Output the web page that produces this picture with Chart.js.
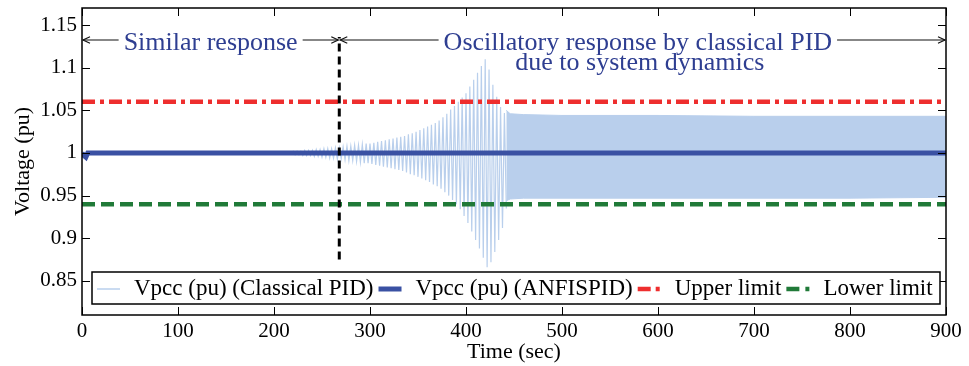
<!DOCTYPE html>
<html>
<head>
<meta charset="utf-8">
<script src="https://cdn.jsdelivr.net/npm/chart.js@4.4.1/dist/chart.umd.min.js"></script>
<style>
  html, body { margin: 0; padding: 0; background: #fff; }
  #wrap { width: 969px; height: 366px; position: relative; }
</style>
</head>
<body>
<div id="wrap"><canvas id="chart"></canvas></div>
<script>
// ---- axis ticks ----
const xTicks = [0, 100, 200, 300, 400, 500, 600, 700, 800, 900];
const yTicks = [0.85, 0.9, 0.95, 1, 1.05, 1.1, 1.15];

// ---- limits and event marker ----
const upperLimit = 1.06;
const lowerLimit = 0.94;
const switchTime = 268;          // end of the "similar response" window (s)
const switchSpan = [0.875, 1.136];

// ---- Vpcc with ANFIS-PID (pu) ----
const anfisTime  = [0, 2, 4, 6, 900];
const anfisValue = [1.0, 0.997, 0.995, 1.0, 1.0];

// ---- Vpcc with classical PID (pu): growing oscillation, crest / trough per cycle ----
const oscHalfPeriod = 2;         // trough follows each crest by half a cycle (s)
const oscTime = [212, 216, 220, 224, 228, 232, 236, 240, 244, 248,
                 252, 256, 260, 264, 268, 272, 276, 280, 284, 288,
                 292, 296, 300, 304, 308, 312, 316, 320, 324, 328,
                 332, 336, 340, 344, 348, 352, 356, 360, 364, 368,
                 372, 376, 380, 384, 388, 392, 396, 400, 404, 408,
                 412, 416, 420, 424, 428, 432, 436, 440];
const oscHigh = [1.001, 1.001, 1.002, 1.002, 1.002, 1.003, 1.003, 1.003, 1.004, 1.004,
                 1.005, 1.005, 1.005, 1.006, 1.006, 1.007, 1.008, 1.008, 1.009, 1.009,
                 1.010, 1.011, 1.011, 1.012, 1.013, 1.014, 1.015, 1.016, 1.017, 1.018,
                 1.019, 1.020, 1.022, 1.023, 1.025, 1.027, 1.029, 1.031, 1.033, 1.035,
                 1.038, 1.042, 1.046, 1.051, 1.055, 1.060, 1.065, 1.070, 1.078, 1.086,
                 1.094, 1.102, 1.110, 1.098, 1.080, 1.066, 1.054, 1.047];
const oscLow  = [0.999, 0.999, 0.998, 0.998, 0.997, 0.997, 0.997, 0.996, 0.996, 0.995,
                 0.995, 0.994, 0.994, 0.993, 0.993, 0.992, 0.991, 0.991, 0.990, 0.989,
                 0.988, 0.988, 0.987, 0.986, 0.985, 0.984, 0.983, 0.982, 0.981, 0.980,
                 0.979, 0.977, 0.975, 0.974, 0.972, 0.970, 0.968, 0.966, 0.963, 0.961,
                 0.958, 0.954, 0.950, 0.945, 0.940, 0.934, 0.926, 0.918, 0.908, 0.898,
                 0.888, 0.877, 0.866, 0.872, 0.884, 0.898, 0.912, 0.935];
// steady oscillation band after ~442 s (envelope of the fast swing)
const bandTime = [442, 446, 460, 500, 600, 700, 800, 900];
const bandHigh = [1.050, 1.046, 1.045, 1.044, 1.044, 1.043, 1.043, 1.043];
const bandLow  = [0.944, 0.946, 0.947, 0.947, 0.947, 0.947, 0.947, 0.948];

// ---- colours ----
const cLight = '#b9cfec';
const cAnfis = '#3a51a3';
const cUpper = '#ee2e2e';
const cLower = '#207a38';
const cNote  = '#2e3e91';
const SERIF = '"Liberation Serif", "Times New Roman", serif';

// build point lists
const classicalPts = [{ x: 0, y: 1.0 }, { x: 210, y: 1.0 }];
oscTime.forEach((t, i) => {
  classicalPts.push({ x: t, y: oscHigh[i] });
  classicalPts.push({ x: t + oscHalfPeriod, y: oscLow[i] });
});
const bandHighPts = bandTime.map((t, i) => ({ x: t, y: bandHigh[i] }));
const bandLowPts  = bandTime.map((t, i) => ({ x: t, y: bandLow[i] }));
const anfisPts    = anfisTime.map((t, i) => ({ x: t, y: anfisValue[i] }));
const upperPts    = [{ x: 0, y: upperLimit }, { x: 900, y: upperLimit }];
const lowerPts    = [{ x: 0, y: lowerLimit }, { x: 900, y: lowerLimit }];
const switchPts   = [{ x: switchTime, y: switchSpan[0] }, { x: switchTime, y: switchSpan[1] }];

const legendItems = [
  { text: 'Vpcc (pu) (Classical PID)', color: cLight, width: 1.5, dash: [] },
  { text: 'Vpcc (pu) (ANFISPID)',      color: cAnfis, width: 5,   dash: [] },
  { text: 'Upper limit',               color: cUpper, width: 4.5, dash: [13, 5, 4, 5] },
  { text: 'Lower limit',               color: cLower, width: 4.5, dash: [13, 6] }
];

function seg(ctx, x1, y1, x2, y2) {
  ctx.beginPath(); ctx.moveTo(x1, y1); ctx.lineTo(x2, y2); ctx.stroke();
}
function arrow(ctx, xFrom, xTo, y) {
  const d = xTo > xFrom ? 1 : -1;
  seg(ctx, xFrom, y, xTo, y);
  ctx.beginPath();
  ctx.moveTo(xTo - d * 7, y - 3.2);
  ctx.lineTo(xTo, y);
  ctx.lineTo(xTo - d * 7, y + 3.2);
  ctx.stroke();
}

const decorations = {
  id: 'decorations',
  afterDraw(chart) {
    const { ctx, chartArea: a, scales: { x, y } } = chart;
    ctx.save();

    // inward tick marks on all four sides
    ctx.strokeStyle = '#000';
    ctx.lineWidth = 1;
    xTicks.forEach(v => {
      const px = Math.round(x.getPixelForValue(v)) + 0.5;
      seg(ctx, px, a.bottom, px, a.bottom - 8);
      seg(ctx, px, a.top, px, a.top + 8);
    });
    yTicks.forEach(v => {
      const py = Math.round(y.getPixelForValue(v)) + 0.5;
      seg(ctx, a.left, py, a.left + 8, py);
      seg(ctx, a.right, py, a.right - 8, py);
    });

    // axes box
    ctx.lineWidth = 1.5;
    ctx.strokeRect(a.left, a.top, a.right - a.left, a.bottom - a.top);

    // annotations
    ctx.font = `26px ${SERIF}`;
    ctx.fillStyle = cNote;
    ctx.textBaseline = 'middle';
    ctx.textAlign = 'center';
    const yArrow = y.getPixelForValue(1.1325);
    const xSwitch = x.getPixelForValue(switchTime);
    const gap = 5;

    const t1 = 'Similar response';
    const c1 = x.getPixelForValue(134);
    const w1 = ctx.measureText(t1).width;
    ctx.fillText(t1, c1, y.getPixelForValue(1.129));

    const t2a = 'Oscillatory response by classical PID';
    const t2b = 'due to system dynamics';
    const c2 = x.getPixelForValue(579);
    const w2 = ctx.measureText(t2a).width;
    ctx.fillText(t2a, c2, y.getPixelForValue(1.129));
    ctx.fillText(t2b, c2 + 2, y.getPixelForValue(1.105));

    ctx.strokeStyle = '#111';
    ctx.lineWidth = 1.2;
    arrow(ctx, c1 - w1 / 2 - gap, a.left + 1, yArrow);
    arrow(ctx, c1 + w1 / 2 + gap, xSwitch - 1, yArrow);
    arrow(ctx, c2 - w2 / 2 - gap, xSwitch + 1, yArrow);
    arrow(ctx, c2 + w2 / 2 + gap, a.right - 1, yArrow);

    // legend box
    const bx = a.left + 10, bw = a.right - 6 - bx;
    const by = a.bottom - 43, bh = 32;
    ctx.fillStyle = '#fff';
    ctx.fillRect(bx, by, bw, bh);
    ctx.strokeStyle = '#000';
    ctx.lineWidth = 1.5;
    ctx.strokeRect(bx, by, bw, bh);
    ctx.font = `23px ${SERIF}`;
    ctx.textAlign = 'left';
    ctx.fillStyle = '#000';
    const ly = by + bh / 2 + 1;
    let lx = bx + 5;
    legendItems.forEach(item => {
      ctx.save();
      ctx.strokeStyle = item.color;
      ctx.lineWidth = item.width;
      ctx.setLineDash(item.dash);
      seg(ctx, lx, ly, lx + 23, ly);
      ctx.restore();
      lx += 23 + 14;
      ctx.fillText(item.text, lx, ly);
      lx += ctx.measureText(item.text).width + 5;
    });

    ctx.restore();
  }
};

const tickFont = { family: SERIF, size: 21 };
const titleFont = { family: SERIF, size: 22 };

new Chart(document.getElementById('chart'), {
  type: 'line',
  data: {
    datasets: [
      { label: 'Vpcc (pu) (Classical PID)', data: classicalPts, borderColor: cLight,
        borderWidth: 1.2, pointRadius: 0, fill: false, order: 5 },
      { label: 'classical band high', data: bandHighPts, borderColor: cLight,
        backgroundColor: cLight, borderWidth: 1, pointRadius: 0, fill: 2, order: 4 },
      { label: 'classical band low', data: bandLowPts, borderColor: cLight,
        borderWidth: 1, pointRadius: 0, fill: false, order: 4 },
      { label: 'Vpcc (pu) (ANFISPID)', data: anfisPts, borderColor: cAnfis,
        borderWidth: 5, pointRadius: 0, fill: false, order: 3 },
      { label: 'Upper limit', data: upperPts, borderColor: cUpper, borderWidth: 4.5,
        borderDash: [13, 5, 4, 5], pointRadius: 0, fill: false, order: 2 },
      { label: 'Lower limit', data: lowerPts, borderColor: cLower, borderWidth: 4.5,
        borderDash: [13, 6], pointRadius: 0, fill: false, order: 2 },
      { label: 'switch', data: switchPts, borderColor: '#000', borderWidth: 3,
        borderDash: [8, 5], pointRadius: 0, fill: false, order: 1 }
    ]
  },
  options: {
    responsive: true,
    maintainAspectRatio: false,
    animation: false,
    devicePixelRatio: 1,
    layout: { padding: { top: 8, right: 23, bottom: 0, left: 0 } },
    plugins: { legend: { display: false }, tooltip: { enabled: false } },
    elements: { line: { tension: 0 } },
    scales: {
      x: {
        type: 'linear', min: 0, max: 900,
        afterBuildTicks: s => { s.ticks = xTicks.map(v => ({ value: v })); },
        afterFit: s => { s.height = 51; s.paddingLeft = 0; s.paddingRight = 0; },
        grid: { display: false, drawTicks: false },
        border: { display: false },
        ticks: { font: tickFont, color: '#000', padding: 4, maxRotation: 0, autoSkip: false,
                 callback: v => String(v) },
        title: { display: true, text: 'Time (sec)', font: titleFont, color: '#000',
                 padding: { top: 0, bottom: 1 } }
      },
      y: {
        type: 'linear', min: 0.81, max: 1.17,
        afterBuildTicks: s => { s.ticks = yTicks.map(v => ({ value: v })); },
        afterFit: s => { s.width = 82; s.paddingTop = 0; s.paddingBottom = 0; },
        grid: { display: false, drawTicks: false },
        border: { display: false },
        ticks: { font: tickFont, color: '#000', padding: 5, autoSkip: false,
                 callback: v => String(+v.toFixed(2)) },
        title: { display: true, text: 'Voltage (pu)', font: titleFont, color: '#000',
                 padding: { top: 10, bottom: 0 } }
      }
    }
  },
  plugins: [decorations]
});
</script>
</body>
</html>
